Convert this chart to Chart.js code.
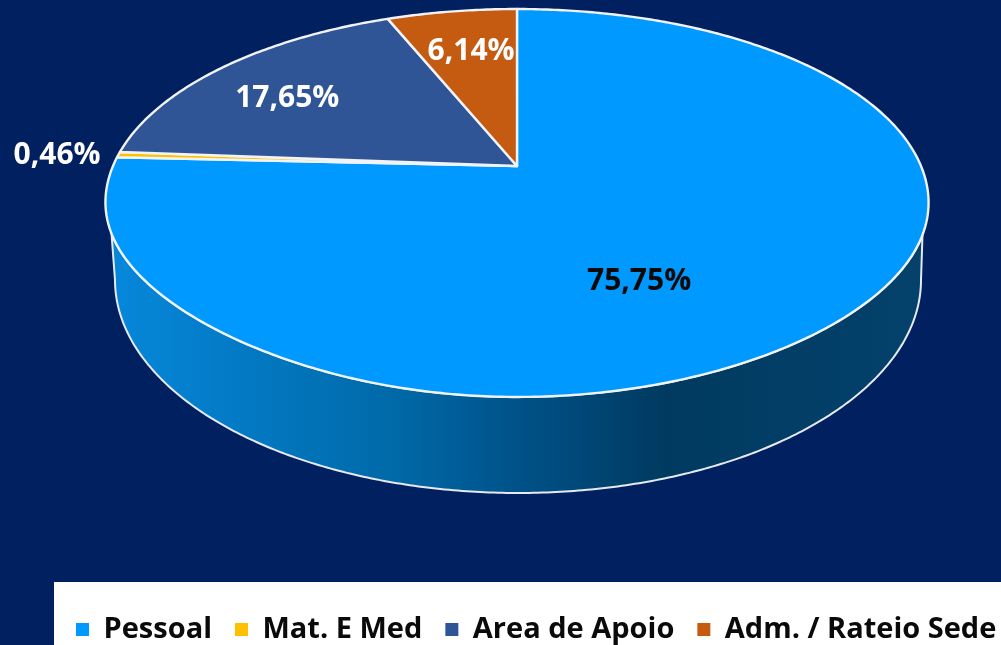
<!DOCTYPE html>
<html>
<head>
<meta charset="utf-8">
<title>Pie</title>
<style>
  html, body { margin: 0; padding: 0; background: #002060; overflow: hidden; }
  canvas { display: block; }
</style>
<script src="https://cdn.jsdelivr.net/npm/chart.js@4/dist/chart.umd.min.js"></script>
</head>
<body>
<canvas id="pie" width="1001" height="645"></canvas>
<script>
const categories = ["Pessoal", "Mat. E Med", "Area de Apoio", "Adm. / Rateio Sede"];
const shares = [75.75, 0.46, 17.65, 6.14];
const shareLabels = ["75,75%", "0,46%", "17,65%", "6,14%"];
const sliceColors = ["#0099ff", "#ffc000", "#2f5597", "#c55a11"];
const labelColors = ["#0a0a0a", "#ffffff", "#ffffff", "#ffffff"];
// nudges from the 70% radius point of each slice
const labelNudges = [[-94, 11], [-180, -3], [-18, 4], [2, -1]];

// tilted disc: unit circle to screen, with the near side bigger
const view = { cx: 517, cy: 166, a: 404, b: 186.9, p: 0.1907 };
// lower edge of the side wall
const base = { cx: 518, cy: 280, rx: 403, ry: 213 };

function project(angle, r) {
    const u = Math.cos(angle) * r, v = Math.sin(angle) * r;
    const w = 1 - view.p * v;
    // front corners of the reference sit a little flatter than a true ellipse
    const flat = v > 0 ? (u < 0 ? 6 : 3) * Math.pow(2 * u * v, 2) : 0;
    return {
        x: view.cx + view.a * u / w,
        y: view.cy + view.b * v / w - flat
    };
}

function projectBase(angle) {
    return { x: base.cx + base.rx * Math.cos(angle), y: base.cy + base.ry * Math.sin(angle) };
}

function traceArc(ctx, from, to, toPoint) {
    const steps = Math.max(2, Math.ceil(Math.abs(to - from) * 90));
    for (let i = 0; i <= steps; i++) {
        const pt = toPoint(from + (to - from) * i / steps, 1);
        ctx.lineTo(pt.x, pt.y);
    }
}

const discPlugin = {
    id: "disc",
    beforeDraw(chart) {
        const ctx = chart.ctx;
        ctx.fillStyle = "#002060";
        ctx.fillRect(0, 0, chart.width, chart.height);
        ctx.fillStyle = "#ffffff";
        ctx.fillRect(54, 582, chart.width - 54, chart.height - 582);
    },
    beforeDatasetsDraw(chart) {
        const ctx = chart.ctx;
        const arcs = chart.getDatasetMeta(0).data;

        // side wall
        const toRad = Math.PI / 180;
        const wall = ctx.createLinearGradient(107, 0, 929, 0);
        wall.addColorStop(0, "#0688dc");
        wall.addColorStop(0.35, "#0069a8");
        wall.addColorStop(0.5, "#005289");
        wall.addColorStop(0.68, "#003a60");
        wall.addColorStop(1, "#04426c");
        ctx.beginPath();
        traceArc(ctx, 20.5 * toRad, 159.5 * toRad, project);
        traceArc(ctx, Math.PI, 0, projectBase);
        ctx.closePath();
        ctx.fillStyle = wall;
        ctx.fill();
        ctx.strokeStyle = "#e6e9ef";
        ctx.lineWidth = 2;
        ctx.lineJoin = "round";
        ctx.stroke();

        // top face, angles come from the library's arc elements
        arcs.forEach((arc, i) => {
            const centre = project(0, 0);
            ctx.beginPath();
            ctx.moveTo(centre.x, centre.y);
            traceArc(ctx, arc.startAngle, arc.endAngle, project);
            ctx.closePath();
            ctx.fillStyle = sliceColors[i];
            ctx.fill();
            ctx.strokeStyle = "#f2f3f6";
            ctx.lineWidth = 2.4;
            ctx.stroke();
        });

        // percent labels
        ctx.font = "bold 30px 'Open Sans'";
        ctx.textAlign = "center";
        ctx.textBaseline = "middle";
        arcs.forEach((arc, i) => {
            const pt = project((arc.startAngle + arc.endAngle) / 2, 0.7);
            ctx.fillStyle = labelColors[i];
            ctx.fillText(shareLabels[i], pt.x + labelNudges[i][0], pt.y + labelNudges[i][1]);
        });
        return false;
    }
};

new Chart(document.getElementById("pie"), {
    type: "pie",
    data: {
        labels: categories,
        datasets: [{ data: shares, backgroundColor: sliceColors, borderWidth: 0 }]
    },
    options: {
        responsive: false,
        animation: false,
        layout: { padding: { left: 53, right: -60, bottom: -9 } },
        plugins: {
            tooltip: { enabled: false },
            legend: {
                position: "bottom",
                align: "start",
                labels: {
                    boxWidth: 13,
                    boxHeight: 13,
                    padding: 23,
                    color: "#0a0a0a",
                    font: { family: "'Open Sans'", size: 29, weight: "bold" }
                }
            }
        }
    },
    plugins: [discPlugin]
});
</script>
</body>
</html>
